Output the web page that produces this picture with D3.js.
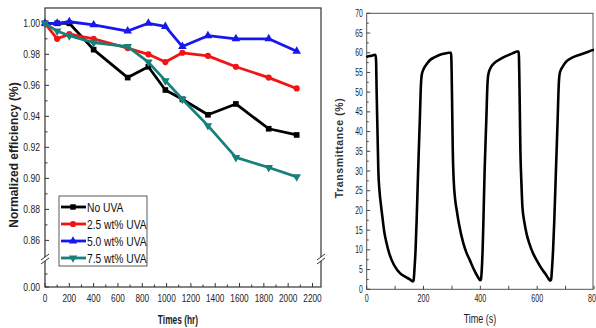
<!DOCTYPE html>
<html>
<head>
<meta charset="utf-8">
<script src="https://cdn.jsdelivr.net/npm/d3@7"></script>
<style>
  body { margin: 0; background: #fff; }
  svg { display: block; }
</style>
</head>
<body>
<svg id="chart"></svg>
<script>
const W = 596, H = 328;
const sans = "'Liberation Sans',Arial,sans-serif";

// left panel: normalized efficiency vs time
const timesHr = [0, 100, 200, 400, 680, 850, 990, 1130, 1340, 1570, 1840, 2070];
const noUVA  = [1.000, 1.000, 1.000, 0.983, 0.965, 0.972, 0.957, 0.951, 0.941, 0.948, 0.932, 0.928];
const uva25  = [1.000, 0.990, 0.993, 0.990, 0.984, 0.980, 0.975, 0.981, 0.979, 0.972, 0.965, 0.958];
const uva50  = [1.000, 1.000, 1.001, 0.999, 0.995, 1.000, 0.998, 0.985, 0.992, 0.990, 0.990, 0.982];
const uva75  = [1.000, 0.995, 0.992, 0.9875, 0.985, 0.975, 0.963, 0.951, 0.934, 0.9135, 0.907, 0.901];
const seriesNames = ["No UVA", "2.5 wt% UVA", "5.0 wt% UVA", "7.5 wt% UVA"];
const effTicks = [0.00, 0.86, 0.88, 0.90, 0.92, 0.94, 0.96, 0.98, 1.00];
const hrTicks = [0, 200, 400, 600, 800, 1000, 1200, 1400, 1600, 1800, 2000, 2200];

// right panel: transmittance vs time
const timeS = [0, 5, 15, 25, 31, 33, 35, 38, 41, 45, 50, 55, 62, 70, 79, 88, 100, 117, 135, 152, 162, 165,
  168, 172, 176, 181, 187, 191, 194, 200, 210, 222, 240, 258, 275, 289, 297,
  299, 301, 303, 306, 311, 317, 325, 340, 350, 363, 376, 386, 394, 399, 402,
  405, 408, 411, 415, 421, 425, 428, 435, 451, 470, 492, 515, 530, 535,
  537, 539, 541, 544, 548, 555, 563, 572, 585, 598, 615, 630, 639, 645, 649,
  652, 656, 660, 666, 672, 676, 680, 690, 703, 725, 750, 775, 797, 800];
const transmittance = [58.8, 59.1, 59.2, 59.4, 59.5, 58, 50, 40, 30, 25, 21.5, 18.5, 14.5, 11.7, 9.2, 7.4, 5.7, 4.1, 3.2, 2.5, 2.0, 2.2,
  5, 10, 18, 30, 43, 52, 54.5, 55.8, 57, 58.1, 58.9, 59.5, 59.8, 60.0, 60.0,
  55, 45, 35, 28, 23, 20, 16.5, 11.7, 9.5, 7.4, 5.2, 3.8, 2.8, 2.3, 2.4,
  5, 10, 18, 30, 43, 52, 54.5, 56, 57.5, 58.4, 59.2, 59.9, 60.3, 60.3,
  55, 45, 35, 28, 21, 17, 14, 11.7, 9.2, 7.4, 5.3, 3.8, 2.8, 2.2, 2.4,
  5, 10, 17, 30, 43, 52, 55, 56.5, 57.8, 58.8, 59.5, 60.1, 60.7, 60.7];
const transTicks = [0, 5, 10, 15, 20, 25, 30, 35, 40, 45, 50, 55, 60, 65, 70];
const secTicks = [0, 200, 400, 600, 800];

const colors = ["#000000", "#f21414", "#1717f0", "#17807b"];
const symbols = [d3.symbolSquare, d3.symbolCircle, d3.symbolTriangle, d3.symbolTriangle];

const svg = d3.select("#chart").attr("width", W).attr("height", H);

// squeeze text horizontally (no narrow font installed)
function squeeze(sel, k) {
    sel.each(function() {
        const w = this.getComputedTextLength();
        d3.select(this).attr("textLength", w * k).attr("lengthAdjust", "spacingAndGlyphs");
    });
}

// ---------- left panel ----------
const xL = d3.scaleLinear().domain([0, 2270]).range([45, 321]);
const yL = d3.scaleLinear().domain([0, 0.02, 0.848, 1.01]).range([287, 261, 259, 7.8]);
const frameL = { x0: 45, x1: 321, y0: 8, y1: 287 };

const left = svg.append("g");

left.append("rect")
    .attr("x", frameL.x0).attr("y", frameL.y0)
    .attr("width", frameL.x1 - frameL.x0).attr("height", frameL.y1 - frameL.y0)
    .attr("fill", "none").attr("stroke", "#333").attr("stroke-width", 1.2);

// ticks (inward)
const minorEff = [0.01, 0.87, 0.89, 0.91, 0.93, 0.95, 0.97, 0.99];
left.selectAll(".ytk").data(effTicks).enter().append("line")
    .attr("x1", frameL.x0).attr("x2", frameL.x0 + 4)
    .attr("y1", d => yL(d)).attr("y2", d => yL(d))
    .attr("stroke", "#333");
left.selectAll(".ymn").data(minorEff).enter().append("line")
    .attr("x1", frameL.x0).attr("x2", frameL.x0 + 2.5)
    .attr("y1", d => yL(d)).attr("y2", d => yL(d))
    .attr("stroke", "#333");
left.selectAll(".ylab").data(effTicks).enter().append("text")
    .attr("x", frameL.x0 - 5).attr("y", d => yL(d) + 4)
    .attr("text-anchor", "end")
    .style("font-family", sans).style("font-size", "11px").attr("fill", "#222")
    .text(d => d.toFixed(2))
    .call(squeeze, 0.78);

const minorHr = d3.range(100, 2300, 200);
left.selectAll(".xtk").data(hrTicks).enter().append("line")
    .attr("x1", d => xL(d)).attr("x2", d => xL(d))
    .attr("y1", frameL.y1).attr("y2", frameL.y1 - 4)
    .attr("stroke", "#333");
left.selectAll(".xmn").data(minorHr).enter().append("line")
    .attr("x1", d => xL(d)).attr("x2", d => xL(d))
    .attr("y1", frameL.y1).attr("y2", frameL.y1 - 2.5)
    .attr("stroke", "#333");
left.selectAll(".xlab").data(hrTicks).enter().append("text")
    .attr("x", d => xL(d)).attr("y", frameL.y1 + 15)
    .attr("text-anchor", "middle")
    .style("font-family", sans).style("font-size", "11px").attr("fill", "#222")
    .text(d => d)
    .call(squeeze, 0.75);

// axis break marks
[frameL.x0, frameL.x1].forEach(bx => {
    const by = 259;
    left.append("rect").attr("x", bx - 3).attr("y", by - 2).attr("width", 6).attr("height", 4).attr("fill", "#fff");
    [-2, 2].forEach(off => {
        left.append("line")
            .attr("x1", bx - 4).attr("y1", by + off + 3)
            .attr("x2", bx + 4).attr("y2", by + off - 3)
            .attr("stroke", "#333").attr("stroke-width", 1);
    });
});

const allSeries = [noUVA, uva25, uva50, uva75];
const lineL = d3.line().x(d => xL(d[0])).y(d => yL(d[1]));

allSeries.forEach((vals, i) => {
    const pts = timesHr.map((t, j) => [t, vals[j]]);
    left.append("path").datum(pts)
        .attr("fill", "none").attr("stroke", colors[i])
        .attr("stroke-width", 2.8).attr("stroke-linejoin", "round")
        .attr("d", lineL);
    left.selectAll(".m" + i).data(pts).enter().append("path")
        .attr("transform", d => `translate(${xL(d[0])},${yL(d[1])})` + (i === 3 ? " rotate(180)" : ""))
        .attr("d", d3.symbol().type(symbols[i]).size(i === 1 ? 30 : 32))
        .attr("fill", colors[i]);
});

// legend
const leg = left.append("g");
leg.append("rect").attr("x", 59).attr("y", 196).attr("width", 88).attr("height", 70)
    .attr("fill", "#fff").attr("stroke", "#333").attr("stroke-width", 0.8);
seriesNames.forEach((name, i) => {
    const ly = 207 + i * 17;
    leg.append("line").attr("x1", 61).attr("x2", 86).attr("y1", ly).attr("y2", ly)
        .attr("stroke", colors[i]).attr("stroke-width", 2.8);
    leg.append("path")
        .attr("transform", `translate(73,${ly})` + (i === 3 ? " rotate(180)" : ""))
        .attr("d", d3.symbol().type(symbols[i]).size(30))
        .attr("fill", colors[i]);
    leg.append("text").attr("x", 87).attr("y", ly + 5)
        .style("font-family", sans).style("font-size", "13.5px").attr("fill", "#111")
        .text(name)
        .call(squeeze, 0.76);
});

left.append("text")
    .attr("transform", `translate(18,${155}) rotate(-90)`)
    .attr("text-anchor", "middle")
    .style("font-family", sans).style("font-size", "12px").style("font-weight", "bold")
    .attr("fill", "#222")
    .text("Normalized efficiency (%)");

left.append("text")
    .attr("x", 178).attr("y", 324)
    .attr("text-anchor", "middle")
    .style("font-family", sans).style("font-size", "13.5px").style("font-weight", "bold")
    .attr("fill", "#222")
    .text("Times (hr)")
    .call(squeeze, 0.62);

// ---------- right panel ----------
const xR = d3.scaleLinear().domain([0, 800]).range([366.7, 594]);
const yR = d3.scaleLinear().domain([0, 70]).range([289.3, 13.3]);
const right = svg.append("g");

right.append("rect")
    .attr("x", xR(0)).attr("y", yR(70))
    .attr("width", xR(800) - xR(0) - 1).attr("height", yR(0) - yR(70))
    .attr("fill", "none").attr("stroke", "#555").attr("stroke-width", 1);

const minorTrans = d3.range(2.5, 70, 5);
right.selectAll(".ytk").data(transTicks).enter().append("line")
    .attr("x1", xR(0)).attr("x2", xR(0) + 3.5)
    .attr("y1", d => yR(d)).attr("y2", d => yR(d)).attr("stroke", "#444");
right.selectAll(".ymn").data(minorTrans).enter().append("line")
    .attr("x1", xR(0)).attr("x2", xR(0) + 2)
    .attr("y1", d => yR(d)).attr("y2", d => yR(d)).attr("stroke", "#444");
right.selectAll(".ylab").data(transTicks).enter().append("text")
    .attr("x", xR(0) - 4).attr("y", d => yR(d) + 3.5)
    .attr("text-anchor", "end")
    .style("font-family", sans).style("font-size", "10px").attr("fill", "#222")
    .text(d => d)
    .call(squeeze, 0.68);

const minorSec = [100, 300, 500, 700];
right.selectAll(".xtk").data(secTicks).enter().append("line")
    .attr("x1", d => xR(d)).attr("x2", d => xR(d))
    .attr("y1", yR(0)).attr("y2", yR(0) - 3.5).attr("stroke", "#444");
right.selectAll(".xmn").data(minorSec).enter().append("line")
    .attr("x1", d => xR(d)).attr("x2", d => xR(d))
    .attr("y1", yR(0)).attr("y2", yR(0) - 3.5).attr("stroke", "#444");
right.selectAll(".xlab").data(secTicks).enter().append("text")
    .attr("x", d => xR(d)).attr("y", yR(0) + 13)
    .attr("text-anchor", "middle")
    .style("font-family", sans).style("font-size", "10.5px").attr("fill", "#222")
    .text(d => d)
    .call(squeeze, 0.68);

const transPts = timeS.map((t, i) => [t, transmittance[i]]);
right.append("path").datum(transPts)
    .attr("fill", "none").attr("stroke", "#000").attr("stroke-width", 2.6)
    .attr("stroke-linejoin", "round")
    .attr("d", d3.line().x(d => xR(d[0])).y(d => yR(d[1])).curve(d3.curveMonotoneX));

right.append("text")
    .attr("transform", `translate(343,${148}) rotate(-90)`)
    .attr("text-anchor", "middle")
    .style("font-family", sans).style("font-size", "10.5px").style("font-weight", "bold")
    .style("letter-spacing", "0.6px").attr("fill", "#333")
    .text("Transmittance (%)");

right.append("text")
    .attr("x", 480).attr("y", 323)
    .attr("text-anchor", "middle")
    .style("font-family", sans).style("font-size", "12.5px").attr("fill", "#222")
    .text("Time (s)")
    .call(squeeze, 0.72);
</script>
</body>
</html>
